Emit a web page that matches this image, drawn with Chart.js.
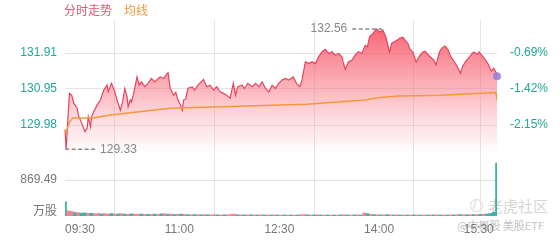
<!DOCTYPE html>
<html><head><meta charset="utf-8">
<script src="https://cdn.jsdelivr.net/npm/chart.js@4.4.1/dist/chart.umd.min.js"></script>
<style>
html,body{margin:0;padding:0;background:#fff;}
#wrap{position:relative;width:560px;height:240px;overflow:hidden;font-family:'Liberation Sans','Noto Sans CJK SC',sans-serif;}
canvas{position:absolute;left:0;top:0;}
.t{position:absolute;white-space:nowrap;line-height:1;}
</style></head><body>
<div id="wrap">
<div class="t" style="left:470px;top:199px;width:11px;height:11px;border:1.5px solid #d8d8d8;border-radius:50%;"></div>
<div class="t" style="left:473px;top:199px;font-size:12px;color:#d4d4d4;">/</div>
<div class="t" style="left:488px;top:198px;font-size:15px;color:#d6d6d6;font-family:'Noto Sans CJK SC',sans-serif;">老虎社区</div>
<div class="t" style="left:457px;top:220px;font-size:11px;color:#c4c4c4;font-family:'Noto Sans CJK SC',sans-serif;">@中概股 美股ETF</div>
<canvas id="cv" width="560" height="240" style="width:560px;height:240px"></canvas>
<canvas id="cp" width="560" height="240" style="width:560px;height:240px"></canvas>
<div class="t" style="left:64px;top:4px;font-size:12px;color:#e0566f;font-family:'Noto Sans CJK SC',sans-serif;">分时走势</div>
<div class="t" style="left:124px;top:4px;font-size:12px;color:#f09a3e;font-family:'Noto Sans CJK SC',sans-serif;">均线</div>
<div class="t" style="right:503px;top:204px;font-size:12px;color:#777;font-family:'Noto Sans CJK SC',sans-serif;">万股</div>
</div>
<script>
// ---- data (minutes after 09:30) ----
const priceMin = [0,1,4,6,8,11,12,15,18,20,21,23,24,26,29,32,35,38,39,42,45,47,50,52,54,56,57,59,60,62,65,67,69,72,75,78,81,83,86,89,91,93,95,98,100,102,104,106,107,109,111,115,117,120,125,128,131,134,137,140,143,146,149,152,154,156,160,162,165,169,172,175,178,181,184,187,190,193,196,199,202,206,209,212,214,217,220,223,226,229,232,235,238,241,244,247,250,251,253,256,259,262,265,268,271,273,275,278,281,284,287,290,293,295,300,302,305,307,310,311,314,317,319,320,323,325,328,330,333,335,338,340,343,346,348,351,354,357,359,362,365,367,369,372,374,376,379,382,384,385,387,389,390];
const priceVal = [129.85,129.33,130.83,130.78,130.56,130.43,130.25,130.03,129.80,129.89,130.20,129.93,130.20,130.34,130.52,130.65,130.92,131.05,130.87,131.10,130.87,130.65,130.38,130.60,130.96,130.74,130.47,130.65,130.60,130.83,131.27,131.05,131.14,131.01,131.10,131.23,131.14,131.20,131.27,131.23,131.32,131.38,130.97,130.78,130.86,130.65,130.54,130.38,130.65,130.68,130.97,131.00,130.92,131.05,131.20,131.01,131.05,130.92,131.01,130.87,130.83,130.78,130.70,131.10,130.78,131.01,131.05,130.96,131.10,131.01,131.10,131.01,131.14,130.96,130.87,131.05,130.96,131.10,131.19,131.23,131.19,131.27,131.10,131.01,131.19,131.68,131.63,131.68,131.63,131.81,131.95,132.01,131.90,131.95,131.86,131.90,131.81,131.68,131.47,131.68,131.72,131.86,131.95,131.90,132.12,132.08,132.35,132.44,132.56,132.48,132.53,132.31,131.94,132.18,132.26,132.31,132.34,132.26,132.15,132.04,131.94,131.67,131.78,131.83,131.94,131.96,131.86,131.80,131.72,131.59,131.94,132.04,132.10,131.99,131.83,131.70,131.56,131.37,131.56,131.70,131.80,131.88,131.94,131.88,131.94,131.86,131.75,131.62,131.48,131.43,131.51,131.40,131.29];
const avgMin = [0,1,4,7,25,41,65,95,150,194,218,271,284,302,339,389,390];
const avgVal = [129.85,129.79,130.06,130.17,130.17,130.25,130.33,130.43,130.48,130.52,130.54,130.65,130.72,130.76,130.78,130.85,130.65];
const volMin = [0,3,6,9,12,15,18,21,24,27,30,33,36,39,42,45,48,51,54,57,60,63,66,69,72,75,78,81,84,87,90,93,96,99,102,105,108,111,114,117,120,123,126,129,132,135,138,141,144,147,150,153,156,159,162,165,168,171,174,177,180,183,186,189,192,195,198,201,204,207,210,213,216,219,222,225,228,231,234,237,240,243,246,249,252,255,258,261,264,267,270,273,276,279,282,285,288,291,294,297,300,303,306,309,312,315,318,321,324,327,330,333,336,339,342,345,348,351,354,357,360,363,366,369,372,375,378,381,384,387,390];
const volVal = [345,125,110,85,80,70,75,62,66,55,60,50,56,48,60,44,50,56,46,40,52,44,40,48,38,42,36,46,38,52,56,42,48,36,40,46,38,32,30,36,30,28,34,30,26,32,28,24,30,26,38,42,30,26,28,24,30,26,22,28,24,26,22,28,24,20,26,22,24,20,24,30,34,28,24,26,28,24,22,26,22,24,20,26,30,24,22,26,28,24,70,60,40,34,30,26,28,34,26,24,28,22,26,24,22,26,24,20,24,22,26,24,28,22,26,24,28,26,30,34,28,32,30,34,32,38,42,48,60,90,1280];
const volUp  = [0,1,1,0,1,0,0,1,0,1,1,0,1,1,0,1,0,1,0,1,0,1,1,0,1,0,1,0,1,0,1,0,1,0,1,0,1,0,1,0,1,0,1,0,1,1,0,1,0,1,1,1,0,1,0,1,0,1,0,1,0,1,0,1,0,1,0,1,0,1,0,1,1,0,1,0,1,0,1,0,1,0,1,0,1,0,1,0,1,0,1,0,1,0,1,0,1,0,1,0,1,0,1,0,1,0,1,0,1,0,1,0,1,0,1,0,1,0,1,0,1,0,1,0,1,0,1,0,0,0,0];
const timeTickMin = [0,90,180,270,360,390];
const timeTickLbl = ['09:30','11:00','12:30','14:00','15:30',''];
const priceTicks = [131.91,130.95,129.98];
const pctTickLbl = ['-0.69%','-1.42%','-2.15%'];
const volTicks = [869.49];
const priceAxisMin = 129.04, priceAxisMax = 132.80;
const volAxisMax = 4734;

// ---- styles ----
const GRID = '#e4e4e4', TEAL = '#22a698', GRAY = '#777';
const LINE = '#e6445e', AVG = '#f3983c';
const UP = 'rgba(240,110,132,0.85)', DN = 'rgba(34,166,152,0.85)';
Chart.defaults.font.family = "'Liberation Sans','Noto Sans CJK SC',sans-serif";
Chart.defaults.font.size = 12;

new Chart(document.getElementById('cv'), {
  type: 'bar',
  data: { datasets: [{
    data: volMin.map((m, i) => ({ x: m, y: volVal[i] })),
    backgroundColor: volUp.map(u => u ? UP : DN),
    barThickness: 3, borderWidth: 0
  }]},
  options: {
    responsive: false, animation: false, events: [],
    layout: { padding: { top: 20, right: 63, left: 0, bottom: 0 } },
    plugins: { legend: { display: false }, tooltip: { enabled: false } },
    scales: {
      x: { type: 'linear', min: 0, max: 390, offset: false,
        grid: { color: GRID, drawTicks: false }, border: { display: false },
        afterBuildTicks: s => { s.ticks = timeTickMin.map(v => ({ value: v })); },
        ticks: { align: 'start', padding: 6, color: GRAY, autoSkip: false, maxRotation: 0,
          callback: (v, i) => timeTickLbl[i] },
        afterFit: s => { s.height = 24; } },
      y: { min: 0, max: volAxisMax,
        grid: { color: GRID, drawTicks: false }, border: { display: false },
        afterBuildTicks: s => { s.ticks = volTicks.map(v => ({ value: v })); },
        ticks: { color: GRAY, padding: 8, callback: v => v.toFixed(2) },
        afterFit: s => { s.width = 65; } }
    }
  }
});

const hiLo = { id: 'hilo', afterDatasetsDraw(chart) {
  const { ctx, scales: { x, y } } = chart;
  let hi = 0, lo = 0;
  priceVal.forEach((v, i) => { if (v > priceVal[hi]) hi = i; if (v < priceVal[lo]) lo = i; });
  ctx.save();
  ctx.strokeStyle = '#8c8c8c'; ctx.lineWidth = 1.5; ctx.setLineDash([4, 2.5]);
  ctx.fillStyle = '#888'; ctx.font = "12px 'Liberation Sans',sans-serif"; ctx.textBaseline = 'middle';
  const hx = x.getPixelForValue(priceMin[hi]), hy = y.getPixelForValue(priceVal[hi]);
  ctx.beginPath(); ctx.moveTo(hx - 24, hy); ctx.lineTo(hx + 6, hy); ctx.stroke();
  ctx.textAlign = 'right'; ctx.fillText(priceVal[hi].toFixed(2), hx - 29, hy);
  const lx = x.getPixelForValue(priceMin[lo]), ly = y.getPixelForValue(priceVal[lo]);
  ctx.beginPath(); ctx.moveTo(lx - 1, ly); ctx.lineTo(lx + 29, ly); ctx.stroke();
  ctx.textAlign = 'left'; ctx.fillText(priceVal[lo].toFixed(2), lx + 34, ly);
  ctx.restore();
}};

new Chart(document.getElementById('cp'), {
  type: 'line',
  data: { datasets: [
    { label: '均线', data: avgMin.map((m, i) => ({ x: m, y: avgVal[i] })),
      borderColor: AVG, borderWidth: 1.5, pointRadius: 0, fill: false, tension: 0, order: 0 },
    { label: '分时走势', data: priceMin.map((m, i) => ({ x: m, y: priceVal[i] })),
      borderColor: LINE, borderWidth: 1.2, tension: 0, order: 1, clip: false,
      pointRadius: c => c.dataIndex === priceVal.length - 1 ? 4 : 0,
      pointBackgroundColor: 'rgba(146,128,214,0.85)', pointBorderWidth: 0,
      fill: 'start',
      backgroundColor: c => {
        const { ctx, chartArea } = c.chart;
        if (!chartArea) return 'rgba(247,110,125,0.4)';
        const g = ctx.createLinearGradient(0, chartArea.top, 0, chartArea.bottom);
        g.addColorStop(0, 'rgba(246,70,88,0.9)');
        g.addColorStop(0.5, 'rgba(247,110,125,0.5)');
        g.addColorStop(0.85, 'rgba(250,170,178,0.2)');
        g.addColorStop(1, 'rgba(255,255,255,0)');
        return g;
      } }
  ]},
  options: {
    responsive: false, animation: false, events: [],
    layout: { padding: { top: 20, bottom: 80, left: 0, right: 0 } },
    plugins: { legend: { display: false }, tooltip: { enabled: false } },
    scales: {
      x: { type: 'linear', min: 0, max: 390, display: false },
      y: { position: 'left', min: priceAxisMin, max: priceAxisMax,
        grid: { color: GRID, drawTicks: false }, border: { display: false },
        afterBuildTicks: s => { s.ticks = priceTicks.map(v => ({ value: v })); },
        ticks: { color: TEAL, padding: 8, callback: v => v.toFixed(2) },
        afterFit: s => { s.width = 65; } },
      yr: { position: 'right', min: priceAxisMin, max: priceAxisMax,
        grid: { display: false }, border: { display: false },
        afterBuildTicks: s => { s.ticks = priceTicks.map(v => ({ value: v })); },
        ticks: { color: TEAL, padding: 5, callback: (v, i) => pctTickLbl[i] },
        afterFit: s => { s.width = 63; } }
    }
  },
  plugins: [hiLo]
});
</script>
</body></html>
